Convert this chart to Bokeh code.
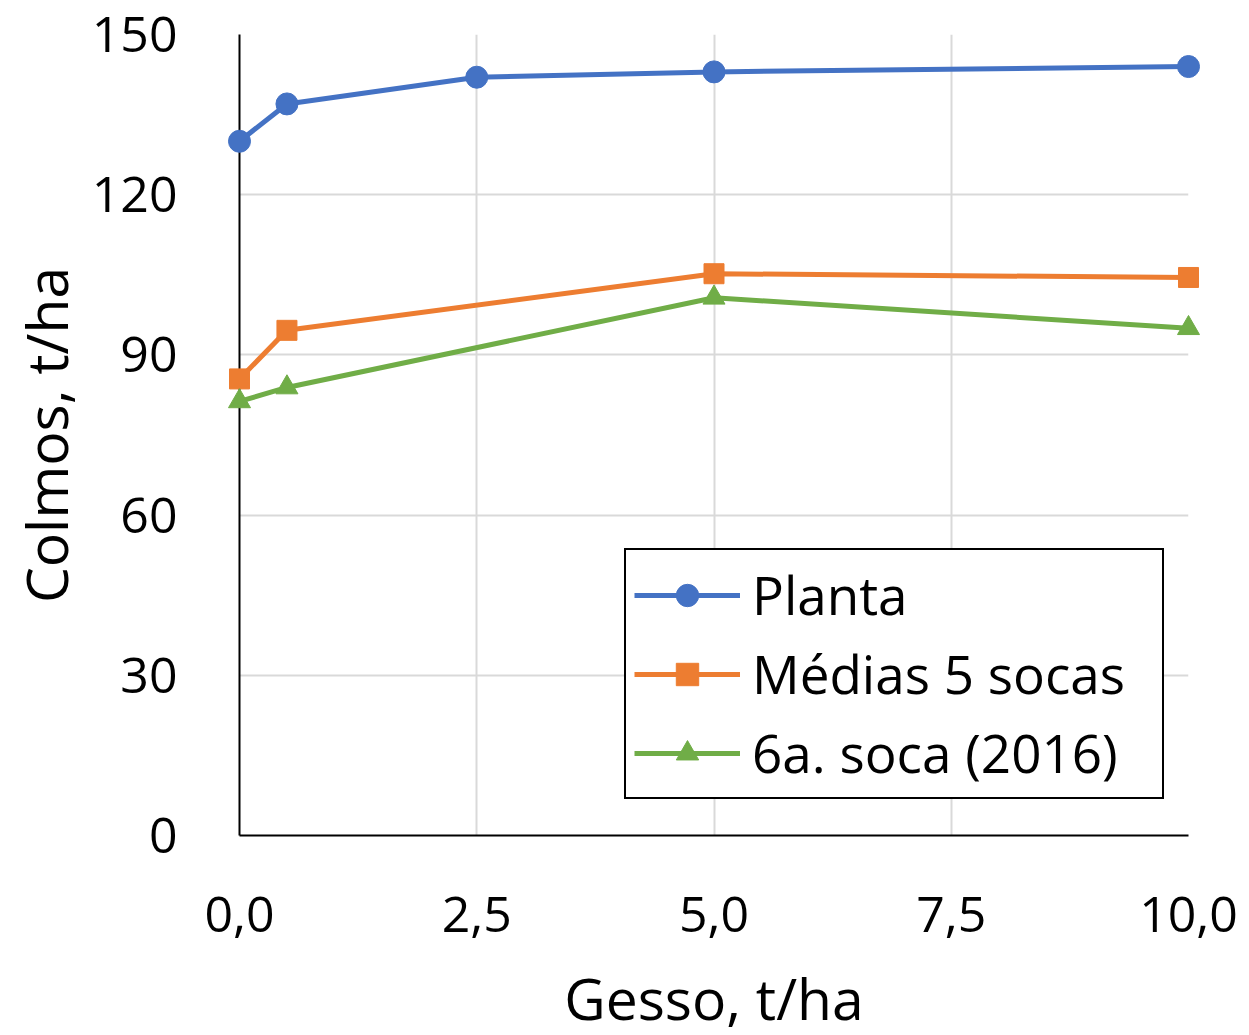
from bokeh.plotting import figure
from bokeh.models import Range1d, FixedTicker, CustomJSTickFormatter, Legend, LegendItem
from bokeh.embed import file_html
from bokeh.resources import INLINE

# Data
gesso = [0.0, 0.5, 2.5, 5.0, 10.0]
planta = [130.0, 137.0, 142.0, 143.0, 144.0]
gesso_socas = [0.0, 0.5, 5.0, 10.0]
medias_5_socas = [85.5, 94.6, 105.2, 104.5]
soca_6a_2016 = [81.3, 83.9, 100.7, 95.0]
x_ticks = [0.0, 2.5, 5.0, 7.5, 10.0]
y_ticks = [0, 30, 60, 90, 120, 150]

FONT = "Open Sans"
BLUE = "#4472C4"
ORANGE = "#ED7D31"
GREEN = "#70AD47"

p = figure(width=1249, height=1035, output_backend="svg", toolbar_location=None,
           x_range=Range1d(0, 10), y_range=Range1d(0, 150),
           min_border_left=239, min_border_right=61, min_border_top=34, min_border_bottom=200)
p.frame_width = 949
p.frame_height = 801
p.outline_line_color = None
p.background_fill_color = "white"
p.border_fill_color = "white"

p.xaxis.ticker = FixedTicker(ticks=x_ticks)
p.yaxis.ticker = FixedTicker(ticks=y_ticks)
p.xaxis.formatter = CustomJSTickFormatter(code="return tick.toFixed(1).replace('.', ',');")
p.xgrid.ticker = FixedTicker(ticks=x_ticks)
p.ygrid.ticker = FixedTicker(ticks=y_ticks)

for ax in (p.xaxis, p.yaxis):
    ax.axis_line_color = "black"
    ax.axis_line_width = 2
    ax.major_tick_line_color = None
    ax.minor_tick_line_color = None
    ax.major_label_text_font = FONT
    ax.major_label_text_font_size = "50px"
    ax.major_label_text_color = "black"
    ax.axis_label_text_font = FONT
    ax.axis_label_text_font_size = "57px"
    ax.axis_label_text_font_style = "normal"
    ax.axis_label_text_color = "black"

p.xaxis.axis_label = "Gesso, t/ha"
p.yaxis.axis_label = "Colmos, t/ha"
p.xaxis.major_label_standoff = 55
p.yaxis.major_label_standoff = 56
p.xaxis.axis_label_standoff = 24
p.yaxis.axis_label_standoff = 4

p.xgrid.grid_line_color = "#D9D9D9"
p.ygrid.grid_line_color = "#D9D9D9"
p.xgrid.grid_line_width = 2
p.ygrid.grid_line_width = 2

lw = 5
l1 = p.line(gesso, planta, line_color=BLUE, line_width=lw)
m1 = p.scatter(gesso, planta, marker="circle", size=22, fill_color=BLUE, line_color=BLUE)
l2 = p.line(gesso_socas, medias_5_socas, line_color=ORANGE, line_width=lw)
m2 = p.scatter(gesso_socas, medias_5_socas, marker="square", size=20, fill_color=ORANGE, line_color=ORANGE)
l3 = p.line(gesso_socas, soca_6a_2016, line_color=GREEN, line_width=lw)
m3 = p.scatter(gesso_socas, soca_6a_2016, marker="triangle", size=22, fill_color=GREEN, line_color=GREEN)
for r in (l1, m1, l2, m2, l3, m3):
    r.level = "overlay"

legend = Legend(items=[
    LegendItem(label="Planta", renderers=[l1, m1]),
    LegendItem(label="Médias 5 socas", renderers=[l2, m2]),
    LegendItem(label="6a. soca (2016)", renderers=[l3, m3]),
], location=(385, 36))
legend.label_text_font = FONT
legend.label_text_font_size = "53px"
legend.label_text_color = "black"
legend.glyph_width = 106
legend.glyph_height = 56
legend.label_standoff = 12
legend.label_width = 402
legend.spacing = 6
legend.padding = 8
legend.margin = 0
legend.border_line_color = "black"
legend.border_line_alpha = 1
legend.border_line_width = 2
legend.background_fill_color = "white"
legend.background_fill_alpha = 1
p.add_layout(legend, "center")

open("out.html", "w").write(file_html(p, INLINE))
